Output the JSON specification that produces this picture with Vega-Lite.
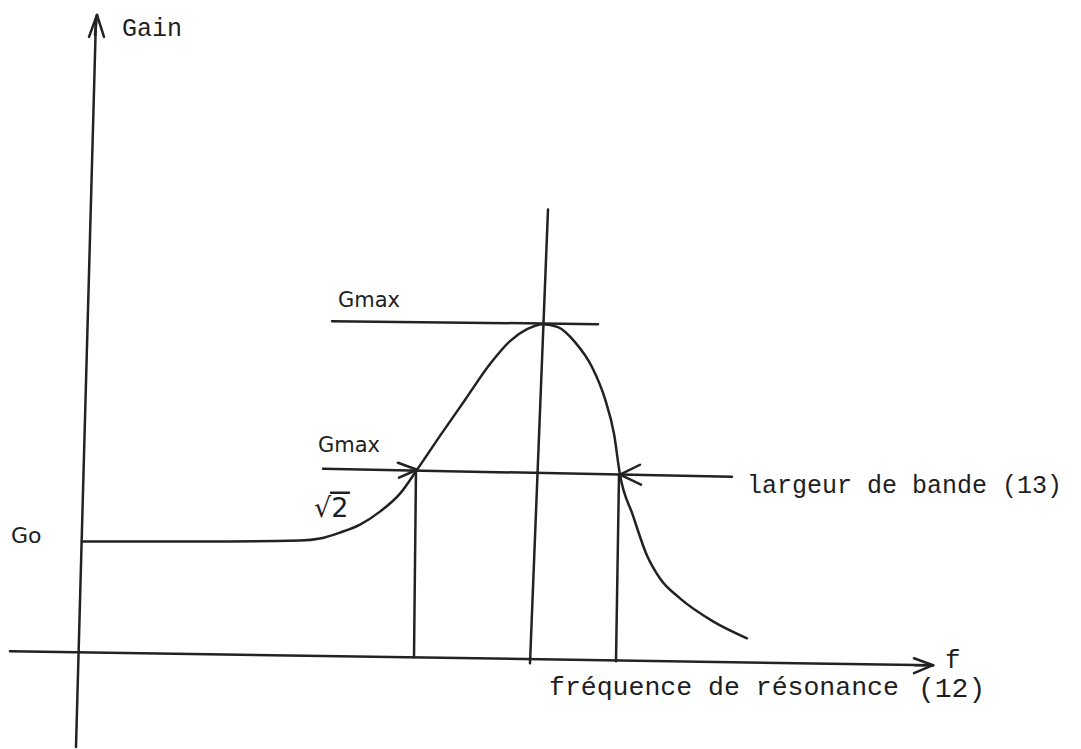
{
  "$schema": "https://vega.github.io/schema/vega-lite/v6.json",
  "width": 1081,
  "height": 749,
  "autosize": {"type": "fit", "contains": "padding"},
  "padding": 0,
  "background": "#ffffff",
  "config": {"view": {"stroke": null}},
  "datasets": {
    "segments": [
      {"name": "yaxis", "x1": 96, "y1": 18, "x2": 76, "y2": 749},
      {"name": "xaxis", "x1": 10, "y1": 653, "x2": 933, "y2": 667},
      {"name": "gmax", "x1": 332, "y1": 322, "x2": 598, "y2": 325},
      {"name": "peakvert", "x1": 548, "y1": 210, "x2": 530, "y2": 665},
      {"name": "half", "x1": 323, "y1": 470, "x2": 732, "y2": 478},
      {"name": "vleft", "x1": 416, "y1": 471, "x2": 414, "y2": 659},
      {"name": "vright", "x1": 619, "y1": 477, "x2": 616, "y2": 663},
      {"name": "chev1a", "x1": 417, "y1": 471, "x2": 398, "y2": 464},
      {"name": "chev1b", "x1": 417, "y1": 471, "x2": 399, "y2": 479},
      {"name": "chev2a", "x1": 620, "y1": 476, "x2": 640, "y2": 466},
      {"name": "chev2b", "x1": 620, "y1": 476, "x2": 641, "y2": 486},
      {"name": "yarrA", "x1": 97, "y1": 15, "x2": 89, "y2": 37},
      {"name": "yarrB", "x1": 97, "y1": 15, "x2": 104, "y2": 37},
      {"name": "yarrC", "x1": 97, "y1": 15, "x2": 95, "y2": 35},
      {"name": "xarrA", "x1": 933, "y1": 667, "x2": 914, "y2": 660},
      {"name": "xarrB", "x1": 933, "y1": 667, "x2": 914, "y2": 675},
      {"name": "xarrC", "x1": 933, "y1": 667, "x2": 915, "y2": 667},
      {"name": "rootbar", "x1": 331, "y1": 494, "x2": 349, "y2": 494}
    ],
    "curve": [
      {"i": 1, "x": 82, "y": 543},
      {"i": 2, "x": 200, "y": 543},
      {"i": 3, "x": 300, "y": 542},
      {"i": 4, "x": 320, "y": 540},
      {"i": 5, "x": 340, "y": 534},
      {"i": 6, "x": 360, "y": 526},
      {"i": 7, "x": 380, "y": 513},
      {"i": 8, "x": 400, "y": 495},
      {"i": 9, "x": 417, "y": 471},
      {"i": 10, "x": 440, "y": 437},
      {"i": 11, "x": 465, "y": 401},
      {"i": 12, "x": 490, "y": 365},
      {"i": 13, "x": 510, "y": 342},
      {"i": 14, "x": 527, "y": 330},
      {"i": 15, "x": 543, "y": 325},
      {"i": 16, "x": 558, "y": 328},
      {"i": 17, "x": 575, "y": 343},
      {"i": 18, "x": 592, "y": 368},
      {"i": 19, "x": 605, "y": 400},
      {"i": 20, "x": 614, "y": 435},
      {"i": 21, "x": 620, "y": 476},
      {"i": 22, "x": 633, "y": 517},
      {"i": 23, "x": 647, "y": 557},
      {"i": 24, "x": 660, "y": 580},
      {"i": 25, "x": 680, "y": 600},
      {"i": 26, "x": 713, "y": 623},
      {"i": 27, "x": 747, "y": 640}
    ],
    "mono": [
      {"label": "Gain", "x": 122, "y": 36, "size": 25},
      {"label": "largeur de bande (13)", "x": 747, "y": 494, "size": 25},
      {"label": "f", "x": 945, "y": 670, "size": 26},
      {"label": "fréquence de résonance", "x": 549, "y": 697, "size": 26.5},
      {"label": "(12)", "x": 918, "y": 699, "size": 28}
    ],
    "sans": [
      {"label": "Gmax", "x": 338, "y": 308, "size": 21},
      {"label": "Gmax", "x": 318, "y": 453, "size": 21},
      {"label": "√2", "x": 314, "y": 518, "size": 27},
      {"label": "Go", "x": 11, "y": 544, "size": 22}
    ]
  },
  "layer": [
    {
      "data": {"name": "segments"},
      "mark": {"type": "rule", "stroke": "#222222", "strokeWidth": 2.5, "strokeCap": "round"},
      "encoding": {
        "x": {"field": "x1", "type": "quantitative", "scale": {"domain": [0, 1081], "nice": false, "zero": false}, "axis": null},
        "y": {"field": "y1", "type": "quantitative", "scale": {"domain": [749, 0], "nice": false, "zero": false}, "axis": null},
        "x2": {"field": "x2"},
        "y2": {"field": "y2"}
      }
    },
    {
      "data": {"name": "curve"},
      "mark": {"type": "line", "stroke": "#222222", "strokeWidth": 2.5, "interpolate": "monotone", "strokeCap": "round"},
      "encoding": {
        "x": {"field": "x", "type": "quantitative"},
        "y": {"field": "y", "type": "quantitative"},
        "order": {"field": "i", "type": "quantitative"}
      }
    },
    {
      "data": {"name": "mono"},
      "mark": {"type": "text", "font": "Liberation Mono", "align": "left", "baseline": "alphabetic", "color": "#1e1e1e"},
      "encoding": {
        "x": {"field": "x", "type": "quantitative"},
        "y": {"field": "y", "type": "quantitative"},
        "text": {"field": "label"},
        "size": {"field": "size", "type": "quantitative", "scale": null}
      }
    },
    {
      "data": {"name": "sans"},
      "mark": {"type": "text", "font": "DejaVu Sans", "align": "left", "baseline": "alphabetic", "color": "#1e1e1e"},
      "encoding": {
        "x": {"field": "x", "type": "quantitative"},
        "y": {"field": "y", "type": "quantitative"},
        "text": {"field": "label"},
        "size": {"field": "size", "type": "quantitative", "scale": null}
      }
    }
  ]
}
